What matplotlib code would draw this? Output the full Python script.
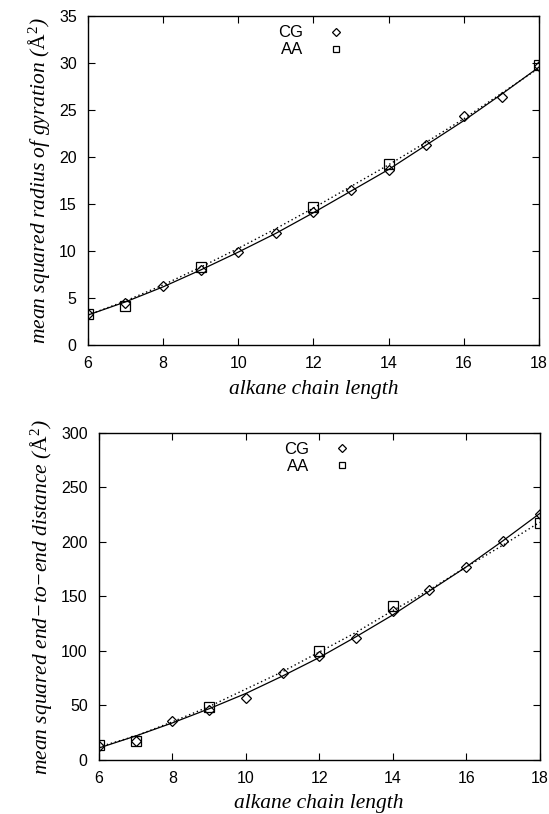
import matplotlib
matplotlib.use("Agg")
import matplotlib.pyplot as plt

# chain lengths
n_cg = [6, 7, 8, 9, 10, 11, 12, 13, 14, 15, 16, 17, 18]
n_aa = [6, 7, 9, 12, 14, 18]

# mean squared radius of gyration (A^2)
rg_cg = [3.35, 4.5, 6.25, 8.0, 9.9, 11.9, 14.15, 16.55, 18.65, 21.35, 24.4, 26.4, 29.7]
rg_aa = [3.35, 4.15, 8.3, 14.7, 19.25, 29.8]
rg_fit_cg = [3.2, 4.6, 6.2, 8.0, 9.9, 11.9, 14.1, 16.4, 18.7, 21.3, 23.9, 26.7, 29.6]
rg_fit_aa = [3.2, 4.7, 6.4, 8.3, 10.3, 12.4, 14.6, 16.9, 19.2, 21.6, 24.1, 26.8, 29.5]

# mean squared end-to-end distance (A^2)
re_cg = [13, 17.5, 35.5, 46, 57, 80, 95, 112, 136.5, 156, 177, 201, 226]
re_aa = [14, 17, 49, 100, 141, 217]
re_fit_cg = [11, 22, 34, 47, 61, 77, 94, 113, 133, 155, 177, 201, 226]
re_fit_aa = [12, 22, 35, 49, 65, 81, 99, 117, 137, 156, 177, 197, 218]

plt.rcParams["font.family"] = "Liberation Sans"
plt.rcParams["font.size"] = 11
plt.rcParams["mathtext.fontset"] = "custom"
plt.rcParams["mathtext.rm"] = "Liberation Serif"
plt.rcParams["mathtext.it"] = "Liberation Serif:italic"
serif = {"family": "Liberation Serif", "style": "italic", "size": 15.5}

fig = plt.figure(figsize=(5.49, 8.14), dpi=100)
ax1 = fig.add_axes([0.160, 0.576, 0.822, 0.404])
ax2 = fig.add_axes([0.180, 0.0663, 0.803, 0.402])


def draw(ax, y_cg, y_aa, f_cg, f_aa, ylim, yticks, ylabel):
    ax.plot(n_cg, f_cg, color="black", lw=0.9)
    ax.plot(n_cg, f_aa, color="black", lw=1.0, ls=(0, (1, 2)))
    ax.plot(n_cg, y_cg, ls="none", marker="D", ms=5, mfc="none", mec="black",
            mew=0.9, label="CG")
    ax.plot(n_aa, y_aa, ls="none", marker="s", ms=7, mfc="none", mec="black",
            mew=0.9, label="AA")
    ax.set_xlim(6, 18)
    ax.set_ylim(*ylim)
    ax.set_xticks(range(6, 19, 2))
    ax.set_yticks(yticks)
    ax.tick_params(direction="in", top=True, right=True, length=5, width=0.8,
                   labelsize=11.5, pad=8)
    for s in ax.spines.values():
        s.set_linewidth(1.0)
    ax.set_xlabel("alkane chain length", fontdict=serif, labelpad=6)
    ax.set_ylabel(ylabel, fontdict=serif, labelpad=5)
    leg = ax.legend(loc="upper center", bbox_to_anchor=(0.5, 1.0), frameon=False,
                    markerfirst=False, handlelength=1.5, handletextpad=1.2,
                    labelspacing=0.12, fontsize=12, borderaxespad=0.15)
    for h in leg.legend_handles:
        h.set_markersize(4.5)


draw(ax1, rg_cg, rg_aa, rg_fit_cg, rg_fit_aa, (0, 35), range(0, 36, 5),
     "mean squared radius of gyration ($\\mathrm{\\AA}^2$)")
draw(ax2, re_cg, re_aa, re_fit_cg, re_fit_aa, (0, 300), range(0, 301, 50),
     "mean squared end\u2212to\u2212end distance ($\\mathrm{\\AA}^2$)")

fig.savefig("out.png", dpi=100)
